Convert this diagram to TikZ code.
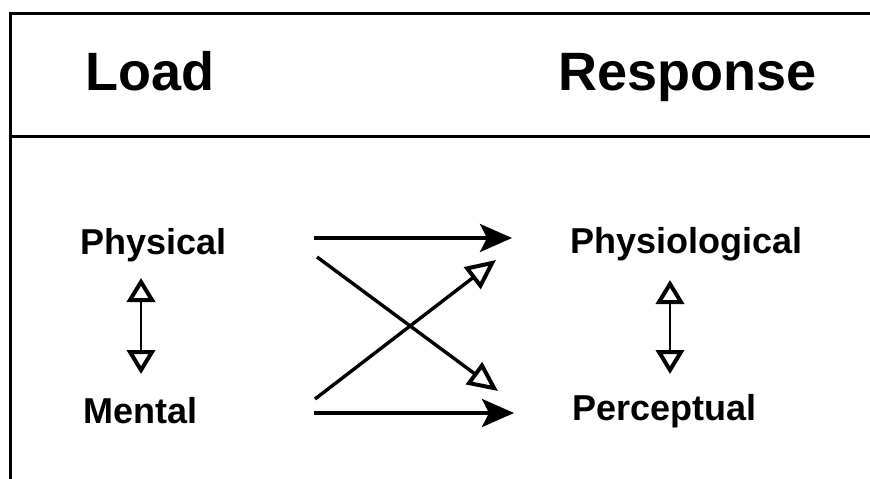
\documentclass[tikz,border=0pt]{standalone}
\usepackage{fontspec}
\setmainfont{Liberation Sans}
\usetikzlibrary{arrows.meta,positioning}

\begin{document}
\begin{tikzpicture}[
  x=1pt, y=-1pt,
  head/.style={font=\fontsize{54}{60}\selectfont\bfseries, anchor=base west, inner sep=0pt},
  item/.style={font=\fontsize{36}{40}\selectfont\bfseries, anchor=base west, inner sep=0pt},
  frame/.style={line width=3pt},
  arrow/.style={-{Stealth[length=32pt, width=28pt, inset=7pt]}, line width=3.4pt},
  cross/.style={-{Triangle[open, length=30pt, width=27pt, line width=4pt]}, line width=3.4pt},
  link/.style={{Triangle[open, length=24pt, width=28pt, line width=4pt]}-{Triangle[open, length=24pt, width=28pt, line width=4pt]}, line width=2.8pt}
]
\useasboundingbox (0,0) rectangle (870,479);

% frame
\draw[frame] (10,479) -- (10,13) -- (870,13);
\draw[frame] (10,136) -- (870,136);

\node[head] (load) at (85,90) {Load};
\node[head] (resp) at (558,90) {Response};

\node[item] (phys) at (80,254) {Physical};
\node[item] (ment) at (83,423) {Mental};
\node[item] (physio) at (570,253) {Physiological};
\node[item] (perc) at (572,420) {Perceptual};

% arrow ends
\coordinate (a1) at (314,238);
\coordinate (b1) at (512,238);
\coordinate (a2) at (317,257);
\coordinate (b2) at (498,391);
\coordinate (a3) at (315,399);
\coordinate (b3) at (496,260);
\coordinate (a4) at (314,413);
\coordinate (b4) at (514,413);
\coordinate (u1) at (141,278);
\coordinate (d1) at (141,374);
\coordinate (u2) at (670,280);
\coordinate (d2) at (670,374);

\draw[arrow] (a1) -- (b1);
\draw[cross] (a2) -- (b2);
\draw[cross] (a3) -- (b3);
\draw[arrow] (a4) -- (b4);

\draw[link] (u1) -- (d1);
\draw[link] (u2) -- (d2);
\end{tikzpicture}
\end{document}
